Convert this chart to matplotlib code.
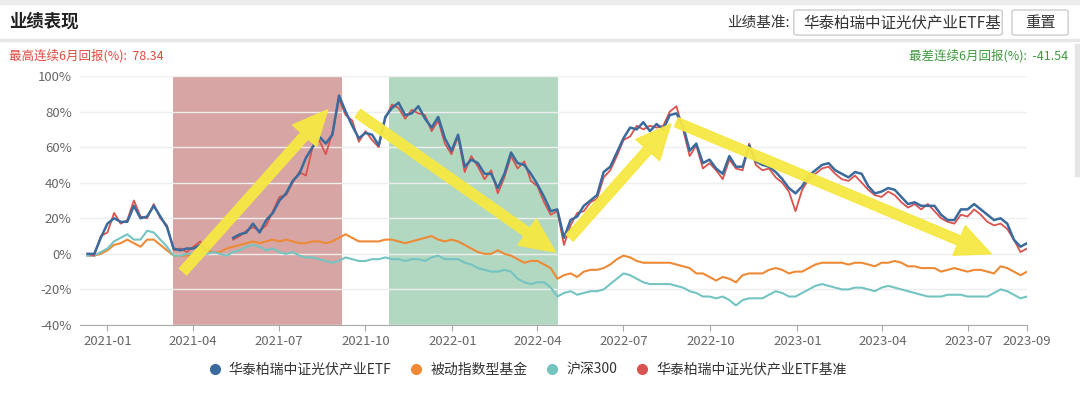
import numpy as np
import pandas as pd
import matplotlib
matplotlib.use("Agg")
import matplotlib.pyplot as plt
import matplotlib.dates as mdates
from matplotlib.lines import Line2D
from matplotlib.patches import FancyBboxPatch, FancyArrowPatch, Rectangle

plt.rcParams['font.family'] = ['Noto Sans CJK SC', 'DejaVu Sans']

nan = np.nan

# weekly values (%), Fridays
dates = pd.date_range('2020-12-11', periods=143, freq='7D')

etf = [0, 0, 9, 17, 20, 18, 18, 27, 20, 21,
       27, 21, 15, 3, 2, 3, 3, 5, 2, nan,
       nan, nan, 9, 11, 12, 17, 12, 19, 23, 30,
       34, 41, 45, 54, 60, 66, 62, 67, 89, 80,
       72, 65, 68, 67, 61, 77, 82, 85, 78, 79,
       83, 76, 71, 77, 65, 58, 67, 49, 53, 51,
       45, 45, 37, 45, 57, 51, 50, 45, 39, 32,
       24, 25, 9, 19, 21, 27, 30, 33, 46, 49,
       57, 65, 71, 70, 74, 69, 73, 70, 78, 79,
       72, 58, 62, 51, 53, 48, 45, 55, 49, 49,
       61, 52, 50, 49, 46, 42, 37, 34, 38, 44,
       47, 50, 51, 47, 45, 43, 46, 45, 38, 34,
       35, 37, 36, 32, 28, 29, 27, 27, 27, 22,
       19, 19, 25, 25, 28, 25, 22, 19, 20, 17,
       8, 4, 6]

bench = [0, -1, 10, 12, 23, 17, 19, 30, 21, 20,
         28, 20, 16, 2, 3, 1, 4, 7, 2, nan,
         nan, nan, 8, 10, 13, 15, 13, 16, 24, 32,
         33, 40, 46, 44, 60, 64, 56, 68, 87, 78,
         75, 63, 69, 64, 60, 76, 84, 82, 76, 81,
         79, 78, 69, 75, 62, 56, 66, 46, 55, 49,
         42, 47, 34, 43, 55, 48, 52, 41, 38, 29,
         22, 24, 5, 16, 23, 24, 29, 31, 43, 47,
         55, 64, 66, 72, 70, 72, 71, 72, 80, 83,
         70, 55, 61, 48, 51, 47, 42, 53, 48, 47,
         62, 50, 47, 48, 43, 40, 35, 24, 36, 42,
         45, 48, 49, 45, 42, 41, 44, 40, 36, 33,
         32, 35, 33, 29, 26, 28, 25, 28, 24, 20,
         18, 17, 22, 21, 25, 22, 18, 16, 17, 14,
         8, 1, 3]

passive = [-1, -1, 0, 2, 5, 6, 8, 6, 4, 8,
           8, 5, 2, -1, -1, -1, 0, 1, 2, 1,
           1, 3, 4, 5, 6, 7, 6, 7, 8, 7,
           8, 7, 6, 6, 7, 7, 6, 7, 9, 11,
           9, 7, 7, 7, 7, 8, 8, 7, 6, 7,
           8, 9, 10, 8, 7, 8, 7, 5, 3, 1,
           0, 0, 2, 0, -1, -3, -5, -4, -4, -6,
           -8, -14, -12, -11, -13, -10, -9, -9, -8, -6,
           -3, -1, -2, -4, -5, -5, -5, -5, -5, -6,
           -7, -8, -11, -11, -13, -15, -13, -14, -16, -12,
           -11, -11, -11, -9, -8, -9, -11, -10, -10, -8,
           -6, -5, -5, -5, -5, -6, -5, -5, -6, -7,
           -5, -5, -4, -5, -7, -7, -8, -8, -8, -10,
           -9, -8, -9, -10, -9, -9, -10, -11, -7, -8,
           -10, -12, -10]

csi300 = [-1, -1, 1, 3, 7, 9, 11, 8, 8, 13,
          12, 8, 4, -1, -1, 0, 0, 0, 0, 1,
          0, -1, 1, 2, 4, 5, 4, 2, 3, 1,
          0, 1, -1, -2, -2, -3, -4, -5, -4, -2,
          -3, -4, -4, -3, -3, -2, -3, -3, -4, -3,
          -3, -4, -2, -1, -3, -3, -3, -5, -6, -8,
          -9, -10, -10, -9, -10, -14, -16, -17, -16, -16,
          -19, -24, -22, -21, -23, -22, -21, -21, -20, -17,
          -14, -11, -12, -14, -16, -17, -17, -17, -17, -18,
          -19, -21, -22, -24, -24, -25, -24, -26, -29, -26,
          -25, -25, -25, -23, -21, -22, -24, -24, -22, -20,
          -18, -17, -18, -19, -20, -20, -19, -19, -20, -21,
          -19, -18, -19, -20, -21, -22, -23, -24, -24, -24,
          -23, -23, -23, -24, -24, -24, -24, -22, -20, -21,
          -23, -25, -24]

labels = ['华泰柏瑞中证光伏产业ETF', '被动指数型基金', '沪深300', '华泰柏瑞中证光伏产业ETF基准']
colors = ['#3a6b9c', '#ee8a35', '#74c4c2', '#d9534f']

best_period = ('2021-03-11', '2021-09-06')
worst_period = ('2021-10-26', '2022-04-23')

# trend arrows drawn over the chart (date, %)
arrows = [(('2021-03-22', -10), ('2021-08-22', 81)),
          (('2021-09-23', 79), ('2022-04-20', 1)),
          (('2022-05-05', 9), ('2022-08-20', 73)),
          (('2022-08-26', 74), ('2023-07-25', 0))]

fig = plt.figure(figsize=(10.8, 3.99), dpi=100)

# header
fig.patches.append(Rectangle((0, 0.99), 1, 0.01, transform=fig.transFigure, color='#ececec'))
fig.patches.append(Rectangle((0, 0.897), 1, 0.005, transform=fig.transFigure, color='#e6e6e6'))
fig.text(0.008, 0.945, '业绩表现', fontsize=12.5, fontweight='bold', color='#222', va='center')
fig.text(0.731, 0.943, '业绩基准:', fontsize=10.5, color='#333', va='center', ha='right')
fig.patches.append(FancyBboxPatch((0.735, 0.912), 0.193, 0.063, boxstyle='round,pad=0,rounding_size=0.004',
                                  transform=fig.transFigure, facecolor='white', edgecolor='#cccccc', lw=1))
fig.text(0.744, 0.943, '华泰柏瑞中证光伏产业ETF基', fontsize=11.2, color='#333', va='center')
fig.patches.append(FancyBboxPatch((0.937, 0.912), 0.052, 0.063, boxstyle='round,pad=0,rounding_size=0.004',
                                  transform=fig.transFigure, facecolor='white', edgecolor='#cccccc', lw=1))
fig.text(0.963, 0.943, '重置', fontsize=11, color='#333', va='center', ha='center')
fig.text(0.008, 0.86, '最高连续6月回报(%):  78.34', fontsize=9, color='#e04a40', va='center')
fig.text(0.989, 0.86, '最差连续6月回报(%):  -41.54', fontsize=9, color='#3f9a3f', va='center', ha='right')
fig.patches.append(Rectangle((0.995, 0.56), 0.005, 0.33, transform=fig.transFigure, color='#e6e6e6'))

ax = fig.add_axes([0.0741, 0.1855, 0.8769, 0.624])

ax.axvspan(pd.Timestamp(best_period[0]), pd.Timestamp(best_period[1]), color='#d7a6a4', lw=0, zorder=0)
ax.axvspan(pd.Timestamp(worst_period[0]), pd.Timestamp(worst_period[1]), color='#b3d8c2', lw=0, zorder=0)

ax.plot(dates, passive, color=colors[1], lw=1.5, zorder=2)
ax.plot(dates, csi300, color=colors[2], lw=1.5, zorder=2)
ax.plot(dates, bench, color=colors[3], lw=1.3, zorder=3)
ax.plot(dates, etf, color=colors[0], lw=1.8, zorder=4)

for (d0, v0), (d1, v1) in arrows:
    a = FancyArrowPatch((mdates.date2num(pd.Timestamp(d0)), v0), (mdates.date2num(pd.Timestamp(d1)), v1),
                        arrowstyle='simple,head_width=23,head_length=25,tail_width=7',
                        mutation_scale=1, shrinkA=0, shrinkB=0, color='#f6e843', alpha=0.95, zorder=6)
    ax.add_patch(a)

ax.set_xlim(pd.Timestamp('2020-12-03'), pd.Timestamp('2023-09-01'))
ax.set_ylim(-40, 100)
ax.set_yticks(range(-40, 101, 20))
ax.set_yticklabels([f'{v}%' for v in range(-40, 101, 20)])
xt = ['2021-01', '2021-04', '2021-07', '2021-10', '2022-01', '2022-04', '2022-07',
      '2022-10', '2023-01', '2023-04', '2023-07', '2023-09']
ax.set_xticks([pd.Timestamp(s + '-01') for s in xt])
ax.set_xticklabels(xt)
ax.grid(axis='y', color='#eeeeee', lw=1)
ax.set_axisbelow(True)
for s in ['top', 'right', 'left']:
    ax.spines[s].set_visible(False)
ax.spines['bottom'].set_color('#aaaaaa')
ax.tick_params(axis='y', length=0, labelsize=9.5, labelcolor='#666666', pad=6)
ax.tick_params(axis='x', length=4, color='#aaaaaa', labelsize=9.5, labelcolor='#666666', pad=3)

handles = [Line2D([], [], marker='o', ls='none', color=c, markersize=7) for c in colors]
fig.legend(handles, labels, loc='center', bbox_to_anchor=(0.485, 0.073), ncol=4, frameon=False,
           fontsize=10, handletextpad=0.0, columnspacing=0.8, labelcolor='#333333')

fig.savefig('out.png', dpi=100)
